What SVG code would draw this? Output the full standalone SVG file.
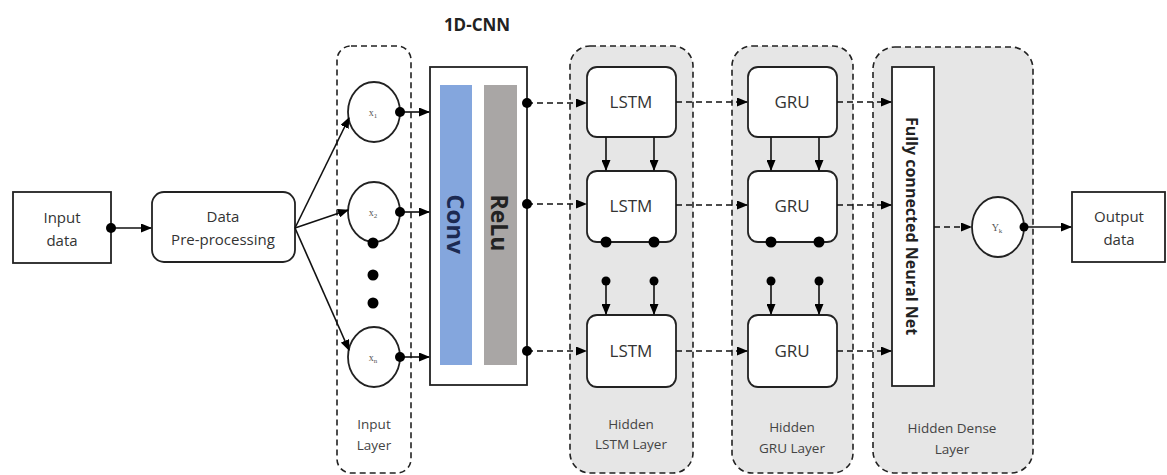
<svg xmlns="http://www.w3.org/2000/svg" width="1167" height="475" viewBox="0 0 1167 475">
<style>
.t{font-family:"Open Sans","Liberation Sans",sans-serif;font-size:15px;fill:#333;text-anchor:middle}
.cell{font-family:"Open Sans","Liberation Sans",sans-serif;font-size:17px;fill:#333;text-anchor:middle}
.lbl{font-family:"Open Sans","Liberation Sans",sans-serif;font-size:13.5px;fill:#444;text-anchor:middle}
.box{fill:#fff;stroke:#222;stroke-width:1.8}
.layer{fill:#e6e6e6;stroke:#222;stroke-width:1.6;stroke-dasharray:6 4}
.solid{fill:none;stroke:#111;stroke-width:1.6}
.dash{fill:none;stroke:#111;stroke-width:1.6;stroke-dasharray:6 4}
.dot{fill:#000}
.sub{font-family:"Liberation Serif",serif;font-size:10px;fill:#555;text-anchor:middle}
</style>
<defs>
<marker id="ah" markerWidth="11" markerHeight="9" refX="10" refY="4.5" orient="auto" markerUnits="userSpaceOnUse">
<path d="M0,0 L11,4.5 L0,9 Z" fill="#000"/>
</marker>
</defs>

<g id="layers">
<rect id="input-layer" x="337" y="46" width="74" height="427" rx="14" fill="#fff" stroke="#222" stroke-width="1.6" stroke-dasharray="6 4"/>
<rect id="lstm-layer" class="layer" x="570" y="46" width="123" height="427" rx="20"/>
<rect id="gru-layer" class="layer" x="732" y="46" width="121" height="427" rx="20"/>
<rect id="dense-layer" class="layer" x="873" y="47" width="160" height="426" rx="22"/>
</g>

<g id="input-data">
<rect class="box" x="13" y="192" width="98" height="71"/>
<text class="t" x="62" y="223">Input</text>
<text class="t" x="62" y="246">data</text>
</g>

<g id="pre-processing">
<rect class="box" x="152" y="192" width="143" height="70" rx="12"/>
<text class="t" x="223" y="222">Data</text>
<text class="t" x="223" y="245">Pre-processing</text>
</g>

<g id="x1"><ellipse class="box" cx="374" cy="112" rx="26" ry="30"/><text class="sub" x="373" y="116">x<tspan font-size="7" dy="2">1</tspan></text></g>
<g id="x2"><ellipse class="box" cx="374" cy="212" rx="26" ry="30"/><text class="sub" x="373" y="216">x<tspan font-size="7" dy="2">2</tspan></text></g>
<g id="xn"><ellipse class="box" cx="374" cy="357" rx="26" ry="30"/><text class="sub" x="373" y="361">x<tspan font-size="7" dy="2">n</tspan></text></g>

<g id="cnn">
<text x="477" y="31" font-family="'Open Sans','Liberation Sans',sans-serif" font-size="17" font-weight="bold" fill="#222" text-anchor="middle">1D-CNN</text>
<rect class="box" x="430" y="67" width="97" height="318"/>
<rect x="440" y="85" width="32" height="280" fill="#84a6dd"/>
<rect x="484" y="85" width="33" height="280" fill="#a9a6a5"/>
<text transform="translate(447 224) rotate(90)" font-family="'Open Sans','Liberation Sans',sans-serif" font-size="24" font-weight="bold" fill="#1c2a52" text-anchor="middle">Conv</text>
<text transform="translate(491 223) rotate(90)" font-family="'Open Sans','Liberation Sans',sans-serif" font-size="23" font-weight="bold" fill="#222" text-anchor="middle">ReLu</text>
</g>

<g id="lstm1"><rect class="box" x="587" y="67" width="89" height="70" rx="10"/><text class="cell" x="631" y="108">LSTM</text></g>
<g id="lstm2"><rect class="box" x="587" y="171" width="89" height="71" rx="10"/><text class="cell" x="631" y="212">LSTM</text></g>
<g id="lstm3"><rect class="box" x="587" y="315" width="89" height="72" rx="10"/><text class="cell" x="631" y="357">LSTM</text></g>
<g id="gru1"><rect class="box" x="748" y="67" width="89" height="70" rx="10"/><text class="cell" x="792" y="108">GRU</text></g>
<g id="gru2"><rect class="box" x="748" y="171" width="89" height="71" rx="10"/><text class="cell" x="792" y="212">GRU</text></g>
<g id="gru3"><rect class="box" x="748" y="315" width="89" height="72" rx="10"/><text class="cell" x="792" y="357">GRU</text></g>

<g id="fc">
<rect class="box" x="892" y="67" width="42" height="319"/>
<text transform="translate(906 226) rotate(90)" font-family="'Open Sans','Liberation Sans',sans-serif" font-size="16" font-weight="bold" fill="#222" text-anchor="middle">Fully connected Neural Net</text>
</g>

<g id="yk"><ellipse class="box" cx="998" cy="227" rx="26" ry="30"/><text class="sub" x="997" y="231">Y<tspan font-size="7" dy="2">k</tspan></text></g>

<g id="output-data">
<rect class="box" x="1072" y="192" width="93" height="70"/>
<text class="t" x="1119" y="222">Output</text>
<text class="t" x="1119" y="245">data</text>
</g>

<g id="labels">
<text class="lbl" x="374" y="429">Input</text><text class="lbl" x="374" y="450">Layer</text>
<text class="lbl" x="631" y="429">Hidden</text><text class="lbl" x="631" y="449">LSTM Layer</text>
<text class="lbl" x="792" y="432">Hidden</text><text class="lbl" x="792" y="453">GRU Layer</text>
<text class="lbl" x="952" y="433">Hidden Dense</text><text class="lbl" x="952" y="454">Layer</text>
</g>

<g id="connectors">
<line class="solid" x1="111" y1="228" x2="151" y2="228" marker-end="url(#ah)"/>
<line class="solid" x1="295" y1="228" x2="349" y2="118" marker-end="url(#ah)"/>
<line class="solid" x1="295" y1="228" x2="348" y2="210" marker-end="url(#ah)"/>
<line class="solid" x1="295" y1="228" x2="349" y2="350" marker-end="url(#ah)"/>
<line class="solid" x1="400" y1="112" x2="429" y2="112" marker-end="url(#ah)"/>
<line class="solid" x1="400" y1="212" x2="429" y2="212" marker-end="url(#ah)"/>
<line class="solid" x1="400" y1="357" x2="429" y2="357" marker-end="url(#ah)"/>

<line class="dash" x1="527" y1="103" x2="586" y2="103" marker-end="url(#ah)"/>
<line class="dash" x1="527" y1="204" x2="586" y2="204" marker-end="url(#ah)"/>
<line class="dash" x1="527" y1="351" x2="586" y2="351" marker-end="url(#ah)"/>
<line class="dash" x1="676" y1="102" x2="747" y2="102" marker-end="url(#ah)"/>
<line class="dash" x1="676" y1="205" x2="747" y2="205" marker-end="url(#ah)"/>
<line class="dash" x1="676" y1="351" x2="747" y2="351" marker-end="url(#ah)"/>
<line class="dash" x1="837" y1="102" x2="891" y2="102" marker-end="url(#ah)"/>
<line class="dash" x1="837" y1="205" x2="891" y2="205" marker-end="url(#ah)"/>
<line class="dash" x1="837" y1="351" x2="891" y2="351" marker-end="url(#ah)"/>
<line class="dash" x1="934" y1="227" x2="971" y2="227" marker-end="url(#ah)"/>
<line class="solid" x1="1024" y1="227" x2="1071" y2="227" marker-end="url(#ah)"/>

<line class="solid" x1="606" y1="137" x2="606" y2="170" marker-end="url(#ah)"/>
<line class="solid" x1="654" y1="137" x2="654" y2="170" marker-end="url(#ah)"/>
<line class="solid" x1="771" y1="137" x2="771" y2="170" marker-end="url(#ah)"/>
<line class="solid" x1="819" y1="137" x2="819" y2="170" marker-end="url(#ah)"/>
<line class="solid" x1="606" y1="281" x2="606" y2="314" marker-end="url(#ah)"/>
<line class="solid" x1="654" y1="281" x2="654" y2="314" marker-end="url(#ah)"/>
<line class="solid" x1="771" y1="281" x2="771" y2="314" marker-end="url(#ah)"/>
<line class="solid" x1="819" y1="281" x2="819" y2="314" marker-end="url(#ah)"/>

<circle class="dot" cx="111" cy="228" r="5"/>
<circle class="dot" cx="400" cy="112" r="5"/>
<circle class="dot" cx="400" cy="212" r="5"/>
<circle class="dot" cx="400" cy="357" r="5"/>
<circle class="dot" cx="373" cy="243" r="5.5"/>
<circle class="dot" cx="373" cy="275" r="5.5"/>
<circle class="dot" cx="373" cy="303" r="5.5"/>
<circle class="dot" cx="527" cy="103" r="5"/>
<circle class="dot" cx="527" cy="204" r="5"/>
<circle class="dot" cx="527" cy="351" r="5"/>
<circle class="dot" cx="606" cy="242" r="5.5"/>
<circle class="dot" cx="654" cy="242" r="5.5"/>
<circle class="dot" cx="771" cy="242" r="5.5"/>
<circle class="dot" cx="819" cy="242" r="5.5"/>
<circle class="dot" cx="606" cy="281" r="4.5"/>
<circle class="dot" cx="654" cy="281" r="4.5"/>
<circle class="dot" cx="771" cy="281" r="4.5"/>
<circle class="dot" cx="819" cy="281" r="4.5"/>
<circle class="dot" cx="1024" cy="227" r="4.5"/>
</g>
</svg>
